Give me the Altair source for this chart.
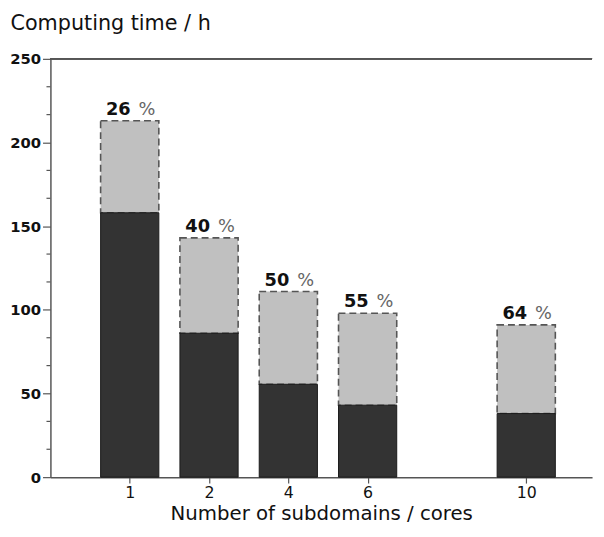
import altair as alt
import pandas as pd

cores = ["1", "2", "4", "6", "10"]
slot = [1, 2, 3, 4, 6]
total = [213, 143, 111, 98, 91]
dark = [158, 86, 55.5, 43, 38]
pct = [26, 40, 50, 55, 64]

major_ticks = [0, 50, 100, 150, 200, 250]
minor_ticks = [16.67, 33.33, 66.67, 83.33, 116.67, 133.33, 166.67, 183.33, 216.67, 233.33]

df = pd.DataFrame({"slot": slot, "cores": cores, "total": total, "dark": dark, "pct": pct})
minor_df = pd.DataFrame({"v": minor_ticks})

label_map = "{" + ",".join(f"'{s}':'{c}'" for s, c in zip(slot, cores)) + "}"
FONT = "DejaVu Sans"
AX = "#555555"

x = alt.X("slot:Q", scale=alt.Scale(domain=[0, 6.83], nice=False, zero=False, padding=0),
          axis=alt.Axis(values=slot, labelExpr=f"{label_map}[datum.value]",
                        title="Number of subdomains / cores", grid=False, labelOverlap=False,
                        domainColor=AX, domainWidth=1.5, tickColor=AX, tickWidth=1.2,
                        tickSize=6, labelFont=FONT, labelFontSize=16, labelFontWeight=500,
                        labelColor="#111", labelPadding=2,
                        titleFont=FONT, titleFontSize=20,
                        titleFontWeight="normal", titleColor="#111", titlePadding=3))

yax = alt.Axis(values=major_ticks, grid=False, labelOverlap=False, format="d",
               tickSize=8, domainColor=AX, domainWidth=1.5, tickColor=AX, tickWidth=1.2,
               labelFont=FONT, labelFontSize=15, labelFontWeight="bold", labelColor="#111",
               labelPadding=2,
               title="Computing time / h", titleAngle=0, titleAlign="left",
               titleBaseline="alphabetic", titleX=-41, titleY=-30,
               titleFont=FONT, titleFontSize=21, titleFontWeight="normal", titleColor="#111")

y_scale = alt.Scale(domain=[0, 250], nice=False, padding=0)

light = alt.Chart(df).mark_bar(size=59, color="#c0c0c0", stroke="#555555",
                                strokeWidth=1.6, strokeDash=[7, 4]).encode(
    x=x, y=alt.Y("total:Q", scale=y_scale, axis=yax), y2="dark:Q")

darkbar = alt.Chart(df).mark_bar(size=59, color="#333333", stroke="#1a1a1a",
                                  strokeWidth=1).encode(
    x="slot:Q", y="dark:Q", y2=alt.datum(0))

nums = alt.Chart(df).mark_text(font=FONT, fontSize=18, fontWeight="bold", color="#111",
                               align="right", baseline="alphabetic", dx=1, dy=-6).encode(
    x="slot:Q", y="total:Q", text="pct:N")

pcts = alt.Chart(df).mark_text(font=FONT, fontSize=18, fontWeight="normal", color="#666",
                               align="left", baseline="alphabetic", dx=9, dy=-6).encode(
    x="slot:Q", y="total:Q", text=alt.value("%"))

minor = alt.Chart(minor_df).mark_rule(color=AX, strokeWidth=1.2).encode(
    y="v:Q", x=alt.value(-4), x2=alt.value(0))

topline = alt.Chart(df).mark_rule(color=AX, strokeWidth=1.5).encode(y=alt.datum(250))

chart = alt.layer(light, darkbar, nums, pcts, minor, topline).properties(
    width=549, height=424,
    autosize=alt.AutoSizeParams(type="none"),
    padding={"left": 43, "top": 48, "right": 4, "bottom": 49},
).configure_view(stroke=None)

chart.save("out.html", embed_options={"renderer": "svg", "actions": False})
